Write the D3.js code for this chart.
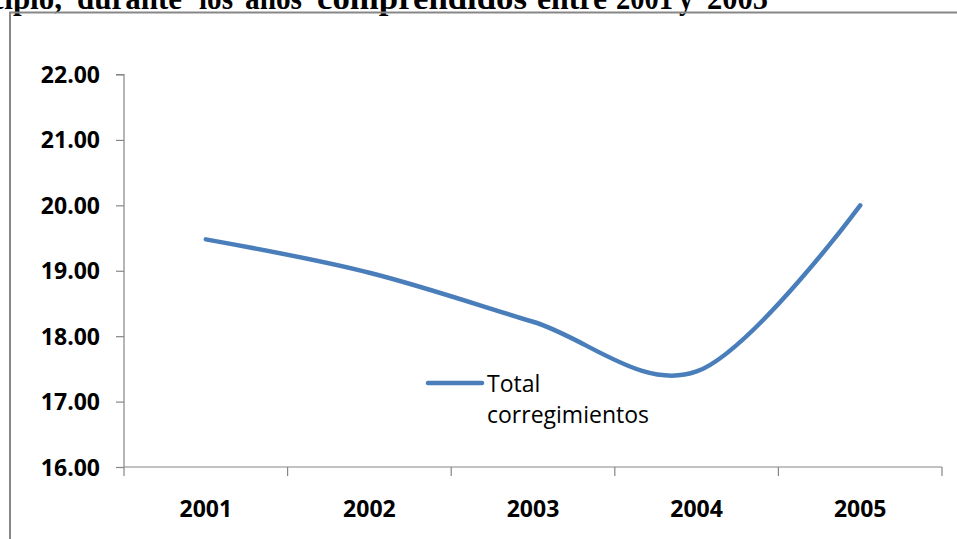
<!DOCTYPE html>
<html><head><meta charset="utf-8">
<script src="https://cdn.jsdelivr.net/npm/d3@7"></script>
<style>html,body{margin:0;padding:0;background:#fff;overflow:hidden}</style>
</head><body>
<svg id="c" width="957" height="539"></svg>
<script>
const titleWords = ["municipio,", "durante", "los", "años", "comprendidos", "entre", "2001", "y", "2005"];
const categories = ["2001", "2002", "2003", "2004", "2005"];
const values = [19.48, 18.97, 18.22, 17.46, 20.00];
const yTicks = [16, 17, 18, 19, 20, 21, 22];
const seriesName = ["Total", "corregimientos"];

const svg = d3.select("#c");
const W = 957, H = 539;
const plot = {left: 124, right: 942, top: 74.5, bottom: 467};

// title (cropped at top, justified word spacing)
const wordSpan = [[null, 62], [77, 182], [199, 233], [245, 302], [317, 527], [537, 607], [616, 673], [679, 693], [707, 768]];
titleWords.forEach((w, i) => {
  const t = svg.append("text")
    .attr("y", 8.5)
    .attr("font-family", "'Liberation Serif', 'Times New Roman', serif")
    .attr("font-weight", "bold").attr("font-size", 31)
    .attr("fill", "#000").text(w);
  if (i === 0) {
    t.attr("x", wordSpan[i][1]).attr("text-anchor", "end");
  } else {
    t.attr("x", wordSpan[i][0])
      .attr("textLength", wordSpan[i][1] - wordSpan[i][0])
      .attr("lengthAdjust", "spacingAndGlyphs");
  }
});

// outer frame
svg.append("path")
  .attr("d", `M10,${H+5} L10,12.5 L${W+5},12.5`)
  .attr("fill", "none").attr("stroke", "#878787").attr("stroke-width", 2);

const x = d3.scaleBand().domain(categories).range([plot.left, plot.right]).padding(0);
const y = d3.scaleLinear().domain([16, 22]).range([plot.bottom, plot.top]);

// y axis
const yAxis = d3.axisLeft(y).tickValues(yTicks).tickFormat(d3.format(".2f")).tickSize(8).tickPadding(16);
const gy = svg.append("g").attr("transform", `translate(${plot.left},0)`).call(yAxis);
gy.select(".domain").attr("stroke", "#868686").attr("stroke-width", 1.2).attr("d", `M-8,${plot.top}H0V${plot.bottom}`);
gy.selectAll(".tick line").attr("stroke", "#868686").attr("stroke-width", 1.2);
gy.selectAll(".tick text")
  .attr("font-family", "'Open Sans', sans-serif").attr("font-weight", "bold")
  .attr("font-size", 23).attr("fill", "#000").attr("dy", "0.35em");

// x axis
const xAxis = d3.axisBottom(x).tickSize(0).tickPadding(0);
const gx = svg.append("g").attr("transform", `translate(0,${plot.bottom})`).call(xAxis);
gx.select(".domain").attr("stroke", "#868686").attr("stroke-width", 1.2).attr("d", `M${plot.left},0H${plot.right}`);
gx.selectAll(".tick text")
  .attr("font-family", "'Open Sans', sans-serif").attr("font-weight", "bold")
  .attr("font-size", 23).attr("fill", "#000").attr("y", 50).attr("dy", 0);
// category boundary ticks
const bounds = categories.map(c => x(c)).concat([x(categories[categories.length-1]) + x.bandwidth()]);
gx.selectAll(".btick").data(bounds).enter().append("line")
  .attr("x1", d => d).attr("x2", d => d).attr("y1", 0).attr("y2", 9)
  .attr("stroke", "#868686").attr("stroke-width", 1.2);

// line
const pts = categories.map((c, i) => [x(c) + x.bandwidth()/2, y(values[i])]);
svg.append("path")
  .attr("d", d3.line().curve(d3.curveCatmullRom.alpha(0))(pts))
  .attr("fill", "none").attr("stroke", "#4A7EBB").attr("stroke-width", 4.5)
  .attr("stroke-linecap", "round").attr("stroke-linejoin", "round");

// legend
const lg = svg.append("g");
lg.append("line").attr("x1", 428).attr("x2", 482).attr("y1", 383).attr("y2", 383)
  .attr("stroke", "#4A7EBB").attr("stroke-width", 4.5).attr("stroke-linecap", "round");
lg.selectAll("text.lt").data(seriesName).enter().append("text")
  .attr("x", 487).attr("y", (d, i) => 392 + i * 31)
  .attr("font-family", "'Open Sans', sans-serif").attr("font-size", 23)
  .attr("fill", "#000").text(d => d);
</script>
</body></html>
